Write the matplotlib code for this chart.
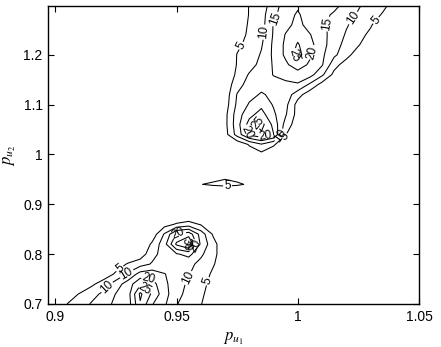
import numpy as np
import matplotlib
matplotlib.use("Agg")
import matplotlib.pyplot as plt

plt.rcParams['font.family'] = ['Liberation Sans', 'DejaVu Sans']
plt.rcParams['mathtext.fontset'] = 'stix'

# grid (p_u1 across, p_u2 up)
p_u1 = [0.895, 0.900, 0.905, 0.910, 0.915, 0.920, 0.925, 0.930,
        0.935, 0.940, 0.945, 0.950, 0.955, 0.960, 0.965, 0.970,
        0.975, 0.980, 0.985, 0.990, 0.995, 1.000, 1.005, 1.010,
        1.015, 1.020, 1.025, 1.030, 1.035, 1.040, 1.045, 1.050]
p_u2 = [0.70, 0.72, 0.74, 0.76, 0.78, 0.80, 0.82, 0.84, 0.86, 0.88,
        0.90, 0.92, 0.94, 0.96, 0.98, 1.00, 1.02, 1.04, 1.06, 1.08,
        1.10, 1.12, 1.14, 1.16, 1.18, 1.20, 1.22, 1.24, 1.26, 1.28, 1.30]
levels = [5, 10, 15, 20, 25, 30, 35]

# estimated surface values, one row per p_u2 value
Z = np.array([
    [0, 2, 5.1, 7.6, 10.5, 13.3, 16, 17.5,  29.5, 20.3, 15.8, 10.3, 7.5, 5.2, 2.5, 0,  0, 0, 0, 0, 0, 0, 0, 0,  0, 0, 0, 0, 0, 0, 0, 0],
    [0, 0.5, 2.5, 5.3, 8.2, 11.2, 15.2, 18,  31, 24, 17, 11.5, 8.5, 5.8, 3, 0,  0, 0, 0, 0, 0, 0, 0, 0,  0, 0, 0, 0, 0, 0, 0, 0],
    [0, 0, 0, 1, 4, 7.5, 12.5, 17.5,  24, 22, 16, 12.5, 9, 6.5, 3.5, 0.5,  0, 0, 0, 0, 0, 0, 0, 0,  0, 0, 0, 0, 0, 0, 0, 0],
    [0, 0, 0, 0, 0, 2, 5.8, 10.8,  17, 18, 15.2, 13, 10.3, 7.6, 4.2, 1,  0, 0, 0, 0, 0, 0, 0, 0,  0, 0, 0, 0, 0, 0, 0, 0],
    [0, 0, 0, 0, 0, 0, 2.5, 5.5,  8, 10.5, 12, 12.5, 11.5, 8.5, 5.5, 2,  0, 0, 0, 0, 0, 0, 0, 0,  0, 0, 0, 0, 0, 0, 0, 0],
    [0, 0, 0, 0, 0, 0, 0, 0.5,  2, 8.5, 12, 14.5, 16.5, 11, 6.5, 2,  0, 0, 0, 0, 0, 0, 0, 0,  0, 0, 0, 0, 0, 0, 0, 0],
    [0, 0, 0, 0, 0, 0, 0, 0,  0, 6, 13, 26, 31, 14, 7, 1,  0, 0, 0, 0, 0, 0, 0, 0,  0, 0, 0, 0, 0, 0, 0, 0],
    [0, 0, 0, 0, 0, 0, 0, 0,  0, 2, 10.5, 20.5, 23, 13, 4.5, 0,  0, 0, 0, 0, 0, 0, 0, 0,  0, 0, 0, 0, 0, 0, 0, 0],
    [0, 0, 0, 0, 0, 0, 0, 0,  0, 0, 3, 5.5, 7, 4.5, 0, 0,  0, 0, 0, 0, 0, 0, 0, 0,  0, 0, 0, 0, 0, 0, 0, 0],
    [0, 0, 0, 0, 0, 0, 0, 0,  0, 0, 0, 0, 0, 0, 0, 0,  0, 0, 0, 0, 0, 0, 0, 0,  0, 0, 0, 0, 0, 0, 0, 0],
    [0, 0, 0, 0, 0, 0, 0, 0,  0, 0, 0, 0, 0, 0, 0, 0,  0, 0, 0, 0, 0, 0, 0, 0,  0, 0, 0, 0, 0, 0, 0, 0],
    [0, 0, 0, 0, 0, 0, 0, 0,  0, 0, 0, 0, 0, 0, 0, 0,  0, 0, 0, 0, 0, 0, 0, 0,  0, 0, 0, 0, 0, 0, 0, 0],
    [0, 0, 0, 0, 0, 0, 0, 0,  0, 0, 0, 0, 0, 4.9, 5.6, 6,  5.6, 4.5, 0, 0, 0, 0, 0, 0,  0, 0, 0, 0, 0, 0, 0, 0],
    [0, 0, 0, 0, 0, 0, 0, 0,  0, 0, 0, 0, 0, 0, 3, 4,  3, 0, 0, 0, 0, 0, 0, 0,  0, 0, 0, 0, 0, 0, 0, 0],
    [0, 0, 0, 0, 0, 0, 0, 0,  0, 0, 0, 0, 0, 0, 0, 0,  0, 0, 0, 0, 0, 0, 0, 0,  0, 0, 0, 0, 0, 0, 0, 0],
    [0, 0, 0, 0, 0, 0, 0, 0,  0, 0, 0, 0, 0, 0, 0, 0,  1, 2, 3.5, 2.5, 0, 0, 0, 0,  0, 0, 0, 0, 0, 0, 0, 0],
    [0, 0, 0, 0, 0, 0, 0, 0,  0, 0, 0, 0, 0, 0, 0, 0,  1, 5.5, 9.5, 5.5, 2, 0, 0, 0,  0, 0, 0, 0, 0, 0, 0, 0],
    [0, 0, 0, 0, 0, 0, 0, 0,  0, 0, 0, 0, 0, 0, 0, 3,  12, 21, 24, 20.2, 5.3, 0, 0, 0,  0, 0, 0, 0, 0, 0, 0, 0],
    [0, 0, 0, 0, 0, 0, 0, 0,  0, 0, 0, 0, 0, 0, 0, 3.5,  13, 22, 27, 18.5, 8, 2, 0, 0,  0, 0, 0, 0, 0, 0, 0, 0],
    [0, 0, 0, 0, 0, 0, 0, 0,  0, 0, 0, 0, 0, 0, 0, 3.5,  12.5, 18.5, 22, 16, 10.5, 3, 0, 0,  0, 0, 0, 0, 0, 0, 0, 0],
    [0, 0, 0, 0, 0, 0, 0, 0,  0, 0, 0, 0, 0, 0, 0, 2.5,  11, 15.5, 18.7, 14.5, 11.5, 3, 0, 0,  0, 0, 0, 0, 0, 0, 0, 0],
    [0, 0, 0, 0, 0, 0, 0, 0,  0, 0, 0, 0, 0, 0, 0, 2,  10.3, 13.5, 15.5, 14, 13, 7, 2, 0,  0, 0, 0, 0, 0, 0, 0, 0],
    [0, 0, 0, 0, 0, 0, 0, 0,  0, 0, 0, 0, 0, 0, 0, 1.5,  8, 12, 13.5, 13.5, 14, 14.5, 9, 3,  0, 0, 0, 0, 0, 0, 0, 0],
    [0, 0, 0, 0, 0, 0, 0, 0,  0, 0, 0, 0, 0, 0, 0, 1,  6, 10.5, 12.5, 15.2, 16.5, 17.5, 17, 11,  3.5, 0, 0, 0, 0, 0, 0, 0],
    [0, 0, 0, 0, 0, 0, 0, 0,  0, 0, 0, 0, 0, 0, 0, 0.5,  5.3, 8, 11.5, 15.5, 19, 23, 19, 15.5,  7, 2.5, 0, 0, 0, 0, 0, 0],
    [0, 0, 0, 0, 0, 0, 0, 0,  0, 0, 0, 0, 0, 0, 0, 0,  5.2, 7, 10.5, 16, 21, 27, 21, 16,  11, 7, 2, 0, 0, 0, 0, 0],
    [0, 0, 0, 0, 0, 0, 0, 0,  0, 0, 0, 0, 0, 0, 0, 0,  4, 6.5, 9.5, 16, 21, 25.5, 21.5, 17,  12, 8.5, 5.5, 1, 0, 0, 0, 0],
    [0, 0, 0, 0, 0, 0, 0, 0,  0, 0, 0, 0, 0, 0, 0, 0,  3, 5.8, 8.5, 15.5, 20.3, 23.5, 20.3, 16.5,  13, 9.5, 6.5, 4, 0.5, 0, 0, 0],
    [0, 0, 0, 0, 0, 0, 0, 0,  0, 0, 0, 0, 0, 0, 0, 0,  2.5, 5.5, 8, 15.3, 18.5, 21.5, 18, 16,  13.5, 10.5, 8, 5.5, 2, 0, 0, 0],
    [0, 0, 0, 0, 0, 0, 0, 0,  0, 0, 0, 0, 0, 0, 0, 0,  2, 5.2, 8, 14, 17.5, 20.8, 17, 16,  14.5, 12, 9.5, 7.5, 4.5, 1, 0, 0],
    [0, 0, 0, 0, 0, 0, 0, 0,  0, 0, 0, 0, 0, 0, 0, 0,  1.5, 5.2, 7, 13, 17, 19, 17.5, 16.5,  16, 14, 10.5, 8.5, 6.5, 3, 0, 0],
])

fig = plt.figure(figsize=(4.41, 3.47), dpi=100)
ax = fig.add_axes([0.109, 0.124, 0.841, 0.859])

cs = ax.contour(p_u1, p_u2, Z, levels=levels, colors='k', linewidths=0.75)

# where the labels sit in the original (matlab style clabel)
label_spots = [
    (0.976, 1.22), (0.987, 1.245), (0.9915, 1.27), (0.9975, 1.195),
    (1.0055, 1.205), (1.012, 1.262), (1.0225, 1.275), (1.032, 1.27),
    (0.9795, 1.045), (0.9865, 1.043), (0.9925, 1.04), (0.9955, 1.03),
    (0.984, 1.062), (0.971, 0.938),
    (0.9253, 0.779), (0.921, 0.735), (0.930, 0.757), (0.936, 0.727),
    (0.9385, 0.742), (0.9535, 0.755), (0.9625, 0.746),
    (0.951, 0.834), (0.953, 0.822), (0.958, 0.815),
]
ax.clabel(cs, fmt='%d', fontsize=8.5, inline=True, inline_spacing=1,
          manual=label_spots)

ax.set_xlim(0.897, 1.05)
ax.set_ylim(0.7, 1.298)
ax.set_xticks([0.9, 0.95, 1.0, 1.05])
ax.set_xticklabels(['0.9', '0.95', '1', '1.05'])
ax.set_yticks([0.7, 0.8, 0.9, 1.0, 1.1, 1.2])
ax.set_yticklabels(['0.7', '0.8', '0.9', '1', '1.1', '1.2'])
ax.tick_params(direction='in', top=True, right=True, length=4, width=0.8,
               labelsize=10, pad=4)
for s in ax.spines.values():
    s.set_linewidth(1.0)

ax.set_xlabel(r'$p_{u_1}$', fontsize=12, labelpad=5)
ax.set_ylabel(r'$p_{u_2}$', fontsize=12, labelpad=4)

fig.savefig('out.png', dpi=100)
